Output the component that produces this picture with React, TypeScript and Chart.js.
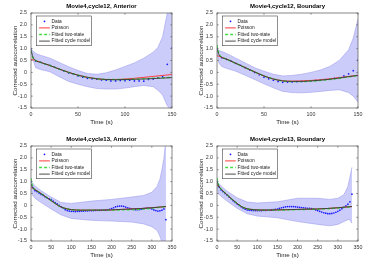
import React, { useEffect, useRef } from 'react';
import { Chart, registerables } from 'chart.js';

Chart.register(...registerables);

const FONT = "'Liberation Sans', Arial, Helvetica, sans-serif";

// ---------- shared axis / label data ----------
const yTicks = [-1.5, -1, -0.5, 0, 0.5, 1, 1.5, 2, 2.5];
const xTicksCycle12 = [0, 50, 100, 150];
const xTicksCycle13 = [0, 50, 100, 150, 200, 250, 300, 350];
const legendLabels = ['Data', 'Poisson', 'Fitted two-state', 'Fitted cycle model'];
const panelTitles = [
  'Movie4,cycle12, Anterior',
  'Movie4,cycle12, Boundary',
  'Movie4,cycle13, Anterior',
  'Movie4,cycle13, Boundary',
];
const xLabel = 'Time (s)';
const yLabel = 'Corrected autocorrelation';

// ---------- cycle 12 ----------
const cycle12DataT = [0, 5, 10, 15, 20, 25, 30, 35, 40, 45, 50, 55, 60, 65, 70, 75, 80, 85, 90, 95, 100, 105, 110, 115, 120, 125, 130, 135, 140, 145, 150];
const cycle12FitT = [0, 2, 5, 10, 20, 30, 40, 50, 60, 70, 80, 90, 100, 110, 120, 130, 140, 150];

const a12DataV = [1.0, 0.48, 0.43, 0.36, 0.3, 0.22, 0.14, 0.06, -0.02, -0.07, -0.15, -0.2, -0.25, -0.27, -0.29, -0.32, -0.33, -0.36, -0.36, -0.34, -0.35, -0.33, -0.36, -0.36, -0.37, -0.3, -0.28, -0.22, -0.18, 0.34, 1.02];
const a12Poisson = [0.55, 0.53, 0.5, 0.43, 0.29, 0.14, 0.0, -0.12, -0.21, -0.27, -0.3, -0.3, -0.28, -0.25, -0.21, -0.17, -0.13, -0.09];
const a12TwoState = [0.9, 0.62, 0.5, 0.42, 0.29, 0.14, 0.0, -0.12, -0.21, -0.27, -0.3, -0.3, -0.3, -0.29, -0.27, -0.25, -0.23, -0.21];
const a12Cycle = [0.95, 0.65, 0.5, 0.42, 0.29, 0.14, 0.0, -0.12, -0.21, -0.27, -0.3, -0.31, -0.3, -0.29, -0.28, -0.26, -0.24, -0.22];
const a12BandT = [0, 2, 5, 10, 20, 30, 40, 50, 60, 70, 80, 90, 100, 110, 120, 130, 135, 140, 145, 148, 150];
const a12Upper = [0.98, 0.9, 0.8, 0.72, 0.6, 0.42, 0.24, 0.08, -0.05, -0.08, -0.02, 0.1, 0.25, 0.4, 0.6, 0.85, 1.05, 1.5, 2.5, 3.5, 4.0];
const a12Lower = [0.9, 0.55, 0.2, 0.12, 0.03, -0.18, -0.38, -0.5, -0.6, -0.68, -0.7, -0.7, -0.66, -0.6, -0.55, -0.6, -0.75, -0.95, -1.4, -1.55, -1.38];

const b12DataV = [1.0, 0.62, 0.55, 0.47, 0.38, 0.3, 0.2, 0.1, 0.0, -0.1, -0.2, -0.27, -0.33, -0.38, -0.42, -0.41, -0.4, -0.39, -0.38, -0.37, -0.36, -0.34, -0.32, -0.3, -0.28, -0.25, -0.22, -0.15, -0.06, 0.07, 0.52];
const b12Poisson = [0.7, 0.68, 0.64, 0.56, 0.38, 0.2, 0.02, -0.15, -0.28, -0.35, -0.37, -0.36, -0.34, -0.31, -0.27, -0.22, -0.17, -0.12];
const b12TwoState = [1.15, 0.8, 0.65, 0.56, 0.38, 0.2, 0.02, -0.15, -0.28, -0.36, -0.39, -0.39, -0.37, -0.34, -0.3, -0.25, -0.19, -0.13];
const b12Cycle = [1.0, 0.75, 0.63, 0.56, 0.38, 0.2, 0.02, -0.15, -0.28, -0.36, -0.38, -0.38, -0.36, -0.33, -0.29, -0.24, -0.18, -0.13];
const b12BandT = [0, 2, 5, 10, 20, 30, 40, 50, 60, 70, 80, 90, 100, 110, 120, 130, 140, 145, 150];
const b12Upper = [1.0, 0.92, 0.88, 0.8, 0.6, 0.4, 0.2, 0.05, -0.08, -0.15, -0.13, -0.08, 0.0, 0.1, 0.25, 0.5, 0.95, 1.45, 2.25];
const b12Lower = [0.95, 0.4, 0.25, 0.17, 0.05, -0.12, -0.3, -0.48, -0.65, -0.8, -0.85, -0.86, -0.84, -0.8, -0.76, -0.73, -0.85, -1.0, -1.25];

// ---------- cycle 13 ----------
const cycle13DataT = [
  0, 5, 10, 15, 20, 25, 30, 35, 40, 45,
  50, 55, 60, 65, 70, 75, 80, 85, 90, 95,
  100, 105, 110, 115, 120, 125, 130, 135, 140, 145,
  150, 155, 160, 165, 170, 175, 180, 185, 190, 195,
  200, 205, 210, 215, 220, 225, 230, 235, 240, 245,
  250, 255, 260, 265, 270, 275, 280, 285, 290, 295,
  300, 305, 310, 315, 320, 325, 330, 335,
];
const cycle13FitT = [0, 3, 5, 10, 20, 30, 40, 50, 60, 70, 80, 90, 100, 125, 150, 175, 200, 225, 250, 275, 300, 320, 335];

const a13DataV = [
  1.0, 0.75, 0.62, 0.58, 0.52, 0.46, 0.42, 0.36, 0.32, 0.28,
  0.24, 0.18, 0.12, 0.06, 0.0, -0.06, -0.12, -0.18, -0.22, -0.24,
  -0.25, -0.25, -0.26, -0.25, -0.25, -0.24, -0.24, -0.23, -0.23, -0.22,
  -0.22, -0.22, -0.21, -0.21, -0.21, -0.2, -0.2, -0.2, -0.19, -0.17,
  -0.14, -0.1, -0.06, -0.04, -0.03, -0.03, -0.04, -0.07, -0.1, -0.13,
  -0.16, -0.17, -0.18, -0.18, -0.17, -0.16, -0.14, -0.12, -0.11, -0.12,
  -0.15, -0.19, -0.22, -0.24, -0.23, -0.2, -0.15, -0.6,
];
const a13Poisson = [0.75, 0.73, 0.72, 0.67, 0.56, 0.44, 0.32, 0.2, 0.08, -0.03, -0.1, -0.15, -0.18, -0.2, -0.2, -0.2, -0.19, -0.17, -0.15, -0.13, -0.1, -0.07, -0.05];
const a13TwoState = [1.15, 0.85, 0.75, 0.67, 0.55, 0.44, 0.32, 0.2, 0.08, -0.03, -0.1, -0.15, -0.18, -0.2, -0.2, -0.2, -0.2, -0.19, -0.18, -0.16, -0.12, -0.08, -0.05];
const a13Cycle = [0.9, 0.78, 0.72, 0.66, 0.55, 0.44, 0.32, 0.2, 0.08, -0.03, -0.1, -0.15, -0.18, -0.2, -0.2, -0.2, -0.19, -0.17, -0.15, -0.13, -0.1, -0.07, -0.05];
const a13BandT = [0, 3, 10, 25, 50, 75, 100, 150, 200, 250, 280, 300, 313, 320, 325, 330, 335];
const a13Upper = [1.0, 0.95, 0.82, 0.62, 0.35, 0.12, 0.08, 0.18, 0.25, 0.35, 0.42, 0.55, 0.8, 1.1, 1.5, 2.0, 2.8];
const a13Lower = [0.9, 0.45, 0.3, 0.12, -0.15, -0.4, -0.55, -0.63, -0.66, -0.7, -0.78, -0.9, -1.05, -1.3, -1.55, -1.9, -2.2];

const b13DataV = [
  1.0, 0.78, 0.65, 0.58, 0.5, 0.43, 0.35, 0.28, 0.2, 0.13,
  0.06, 0.0, -0.06, -0.12, -0.16, -0.19, -0.2, -0.21, -0.22, -0.22,
  -0.22, -0.22, -0.22, -0.21, -0.21, -0.2, -0.2, -0.19, -0.18, -0.17,
  -0.16, -0.13, -0.1, -0.08, -0.06, -0.05, -0.05, -0.05, -0.05, -0.06,
  -0.07, -0.08, -0.09, -0.1, -0.11, -0.12, -0.13, -0.14, -0.16, -0.19,
  -0.22, -0.25, -0.28, -0.31, -0.33, -0.35, -0.35, -0.34, -0.32, -0.29,
  -0.25, -0.2, -0.14, -0.08, -0.02, 0.05, 0.15, 0.47,
];
const b13Poisson = [0.85, 0.82, 0.78, 0.69, 0.52, 0.37, 0.22, 0.08, -0.04, -0.12, -0.16, -0.18, -0.19, -0.2, -0.19, -0.18, -0.17, -0.16, -0.15, -0.13, -0.1, -0.07, -0.05];
const b13TwoState = [1.15, 0.9, 0.8, 0.69, 0.52, 0.37, 0.22, 0.08, -0.04, -0.12, -0.16, -0.18, -0.19, -0.2, -0.2, -0.19, -0.18, -0.17, -0.16, -0.14, -0.11, -0.08, -0.05];
const b13Cycle = [1.0, 0.85, 0.78, 0.68, 0.52, 0.37, 0.22, 0.08, -0.04, -0.12, -0.16, -0.18, -0.19, -0.2, -0.19, -0.18, -0.17, -0.16, -0.15, -0.13, -0.1, -0.07, -0.05];
const b13BandT = [0, 3, 10, 25, 50, 75, 100, 150, 200, 250, 280, 300, 315, 325, 330, 335];
const b13Upper = [1.0, 0.95, 0.82, 0.6, 0.32, 0.14, 0.1, 0.15, 0.3, 0.3, 0.25, 0.3, 0.45, 0.8, 1.2, 1.6];
const b13Lower = [0.92, 0.5, 0.38, 0.18, -0.12, -0.35, -0.45, -0.52, -0.68, -0.8, -0.86, -0.8, -0.68, -0.6, -0.6, -0.75];

type Panel = {
  title: string;
  xMax: number;
  xTicks: number[];
  dataT: number[];
  dataV: number[];
  fitT: number[];
  poisson: number[];
  twoState: number[];
  cycle: number[];
  bandT: number[];
  upper: number[];
  lower: number[];
  left: number;
  top: number;
};

const panels: Panel[] = [
  { title: panelTitles[0], xMax: 150, xTicks: xTicksCycle12, dataT: cycle12DataT, dataV: a12DataV, fitT: cycle12FitT, poisson: a12Poisson, twoState: a12TwoState, cycle: a12Cycle, bandT: a12BandT, upper: a12Upper, lower: a12Lower, left: 0, top: 0 },
  { title: panelTitles[1], xMax: 150, xTicks: xTicksCycle12, dataT: cycle12DataT, dataV: b12DataV, fitT: cycle12FitT, poisson: b12Poisson, twoState: b12TwoState, cycle: b12Cycle, bandT: b12BandT, upper: b12Upper, lower: b12Lower, left: 186, top: 0 },
  { title: panelTitles[2], xMax: 350, xTicks: xTicksCycle13, dataT: cycle13DataT, dataV: a13DataV, fitT: cycle13FitT, poisson: a13Poisson, twoState: a13TwoState, cycle: a13Cycle, bandT: a13BandT, upper: a13Upper, lower: a13Lower, left: 0, top: 133 },
  { title: panelTitles[3], xMax: 350, xTicks: xTicksCycle13, dataT: cycle13DataT, dataV: b13DataV, fitT: cycle13FitT, poisson: b13Poisson, twoState: b13TwoState, cycle: b13Cycle, bandT: b13BandT, upper: b13Upper, lower: b13Lower, left: 186, top: 133 },
];

const pts = (xs: number[], ys: number[]) => xs.map((x, i) => ({ x, y: ys[i] }));

const framePlugin = {
  id: 'matlabFrame',
  afterDatasetsDraw(chart: any) {
    const { ctx, chartArea: ca, scales } = chart;
    ctx.save();
    ctx.strokeStyle = '#6a6a6a';
    ctx.lineWidth = 0.8;
    ctx.strokeRect(ca.left, ca.top, ca.right - ca.left, ca.bottom - ca.top);
    const tl = 1.6;
    ctx.beginPath();
    scales.x.ticks.forEach((t: any) => {
      const px = scales.x.getPixelForValue(t.value);
      ctx.moveTo(px, ca.bottom);
      ctx.lineTo(px, ca.bottom - tl);
      ctx.moveTo(px, ca.top);
      ctx.lineTo(px, ca.top + tl);
    });
    scales.y.ticks.forEach((t: any) => {
      const py = scales.y.getPixelForValue(t.value);
      ctx.moveTo(ca.left, py);
      ctx.lineTo(ca.left + tl, py);
      ctx.moveTo(ca.right, py);
      ctx.lineTo(ca.right - tl, py);
    });
    ctx.stroke();
    ctx.restore();
  },
  afterDraw(chart: any) {
    const { ctx, chartArea: ca } = chart;
    const bx = ca.left + 5.5;
    const by = ca.top + 3;
    const bw = 55;
    const bh = 29.7;
    ctx.save();
    ctx.fillStyle = '#ffffff';
    ctx.fillRect(bx, by, bw, bh);
    ctx.strokeStyle = '#444444';
    ctx.lineWidth = 0.6;
    ctx.strokeRect(bx, by, bw, bh);
    const items = chart.data.datasets.filter((d: any) => !String(d.label).startsWith('_'));
    ctx.font = `4.8px ${FONT}`;
    ctx.textBaseline = 'middle';
    items.forEach((d: any, i: number) => {
      const cy = by + 5.3 + i * 6.6;
      if (d.showLine === false) {
        ctx.fillStyle = d.pointBackgroundColor;
        ctx.beginPath();
        ctx.arc(bx + 8, cy, 0.9, 0, Math.PI * 2);
        ctx.fill();
      } else {
        ctx.strokeStyle = d.borderColor;
        ctx.lineWidth = d.borderWidth;
        ctx.setLineDash(d.borderDash || []);
        ctx.beginPath();
        ctx.moveTo(bx + 2.6, cy);
        ctx.lineTo(bx + 13.3, cy);
        ctx.stroke();
        ctx.setLineDash([]);
      }
      ctx.fillStyle = '#222222';
      ctx.fillText(d.label, bx + 15, cy);
    });
    ctx.restore();
  },
};

function PanelChart({ p }: { p: Panel }) {
  const ref = useRef<HTMLCanvasElement>(null);
  useEffect(() => {
    if (!ref.current) return;
    const tickFont = { family: FONT, size: 5.3 };
    const labelFont = { family: FONT, size: 6.2 };
    const chart = new Chart(ref.current, {
      type: 'line',
      data: {
        datasets: [
          {
            label: '_bandUpper',
            data: pts(p.bandT, p.upper),
            borderColor: 'rgba(150,150,235,0.9)',
            borderWidth: 0.6,
            backgroundColor: 'rgb(204,204,251)',
            fill: '+1',
            pointRadius: 0,
            tension: 0,
            order: 10,
          },
          {
            label: '_bandLower',
            data: pts(p.bandT, p.lower),
            borderColor: 'rgba(150,150,235,0.9)',
            borderWidth: 0.6,
            fill: false,
            pointRadius: 0,
            tension: 0,
            order: 9,
          },
          {
            label: legendLabels[0],
            data: pts(p.dataT, p.dataV),
            showLine: false,
            pointRadius: 0.85,
            pointBorderWidth: 0,
            pointBackgroundColor: '#1a1aff',
            borderColor: '#1a1aff',
            order: 4,
          },
          {
            label: legendLabels[1],
            data: pts(p.fitT, p.poisson),
            borderColor: '#ff3b3b',
            borderWidth: 1,
            pointRadius: 0,
            cubicInterpolationMode: 'monotone',
            fill: false,
            order: 3,
          },
          {
            label: legendLabels[2],
            data: pts(p.fitT, p.twoState),
            borderColor: '#44dd44',
            borderWidth: 1.4,
            borderDash: [3, 2],
            pointRadius: 0,
            cubicInterpolationMode: 'monotone',
            fill: false,
            order: 2,
          },
          {
            label: legendLabels[3],
            data: pts(p.fitT, p.cycle),
            borderColor: '#383838',
            borderWidth: 0.9,
            pointRadius: 0,
            cubicInterpolationMode: 'monotone',
            fill: false,
            order: 1,
          },
        ],
      } as any,
      options: {
        animation: false,
        responsive: false,
        maintainAspectRatio: false,
        layout: { padding: { left: 0, right: 15, top: 0, bottom: 0 } },
        plugins: {
          legend: { display: false },
          tooltip: { enabled: false },
          title: {
            display: true,
            text: p.title,
            fullSize: false,
            color: '#000000',
            font: { family: FONT, size: 6, weight: 'bold', lineHeight: 1.2 },
            padding: { top: 3.1, bottom: 2.7 },
          },
        },
        scales: {
          x: {
            type: 'linear',
            min: 0,
            max: p.xMax,
            afterBuildTicks: (s: any) => {
              s.ticks = p.xTicks.map((v) => ({ value: v }));
            },
            afterFit: (s: any) => {
              s.height = 24;
            },
            grid: { display: false, drawTicks: false },
            border: { display: false },
            ticks: { font: tickFont, color: '#333333', padding: 3.7, maxRotation: 0, autoSkip: false },
            title: { display: true, text: xLabel, color: '#222222', font: { ...labelFont, lineHeight: 1.2 }, padding: { top: 0, bottom: 5.6 } },
          },
          y: {
            type: 'linear',
            min: -1.5,
            max: 2.5,
            afterBuildTicks: (s: any) => {
              s.ticks = yTicks.map((v) => ({ value: v }));
            },
            afterFit: (s: any) => {
              s.width = 31;
            },
            grid: { display: false, drawTicks: false },
            border: { display: false },
            ticks: { font: tickFont, color: '#333333', padding: 4, autoSkip: false },
            title: { display: true, text: yLabel, color: '#222222', font: { ...labelFont, lineHeight: 1.2 }, padding: { top: 11.3, bottom: 0 } },
          },
        },
      } as any,
      plugins: [framePlugin],
    });
    return () => chart.destroy();
  }, [p]);
  return (
    <canvas
      ref={ref}
      width={187}
      height={132}
      style={{ position: 'absolute', left: p.left, top: p.top, width: 187, height: 132 }}
    />
  );
}

export default function App() {
  return (
    <div style={{ position: 'absolute', left: 0, top: 0, width: 374, height: 264, background: '#ffffff' }}>
      {panels.map((p) => (
        <PanelChart key={p.title} p={p} />
      ))}
    </div>
  );
}
